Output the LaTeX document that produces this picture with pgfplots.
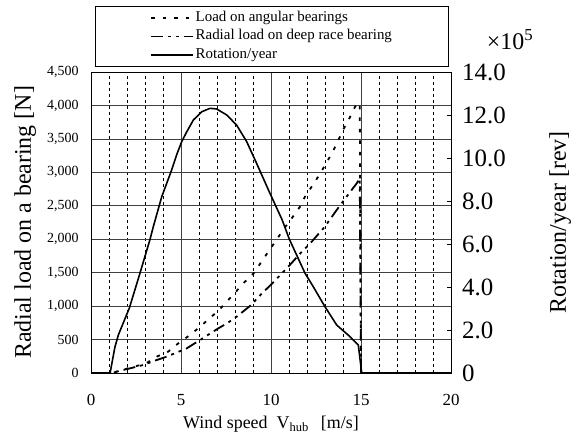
\documentclass[border=0pt]{standalone}
\usepackage{fontspec}
\setmainfont{Liberation Serif}
\usepackage{pgfplots}
\pgfplotsset{compat=1.18}

% load curves [N] vs wind speed [m/s]
\pgfplotstableread{
x y
0 0
1.2 0
1.42 20
2.35 94
3.0 135
3.65 244
4.29 319
4.85 443
5.5 568
6.06 692
6.52 801
7.07 930
7.54 1066
8.0 1200
8.5 1350
9.06 1498
9.43 1648
9.85 1813
10.3 1988
10.7 2150
11.15 2312
11.61 2486
11.89 2636
12.32 2810
12.68 2960
13.06 3134
13.43 3308
13.74 3483
14.02 3642
14.35 3806
14.67 3981
14.93 4040
15.0 0
20 0
}\angular
\pgfplotstableread{
x y
0 0
1.2 0
1.42 20
2.17 70
2.91 120
3.5 180
4.2 244
4.8 310
5.32 369
6.06 493
6.5 570
7.07 667
7.6 750
8.09 842
8.83 1001
9.57 1210
10.0 1320
10.96 1589
11.6 1780
12.26 1963
12.99 2187
13.65 2437
14.2 2636
14.76 2835
14.93 2910
15.0 0
20 0
}\radial
% rotation per year [x10^5 rev]
\pgfplotstableread{
x y
0 0
1.06 0
1.33 1.21
1.52 1.77
2.13 3.02
2.72 4.64
3.28 6.22
3.46 6.80
3.93 8.20
4.48 9.44
4.79 10.22
5.04 10.76
5.32 11.22
5.69 11.77
6.15 12.15
6.61 12.31
6.98 12.28
7.54 12.00
8.09 11.53
8.65 10.76
9.2 9.75
9.94 8.36
10.62 7.12
11.02 6.22
11.89 4.64
12.35 4.01
13.0 3.08
13.65 2.23
14.39 1.69
14.85 1.30
15.04 0
20 0
}\rotation

\begin{document}
\begin{tikzpicture}[x=1bp,y=1bp]
\useasboundingbox (0,0) rectangle (580,435);
\begin{axis}[
  at={(91bp,62bp)}, anchor=south west,
  scale only axis, width=360bp, height=301bp,
  xmin=0, xmax=20, ymin=0, ymax=4500,
  xtick={0,5,10,15,20}, minor x tick num=4,
  ytick={0,500,...,4500},
  grid=both,
  major grid style={black!75, line width=0.7bp},
  minor grid style={black, line width=0.7bp, dash pattern=on 3bp off 3bp},
  major tick length=0pt, minor tick length=0pt,
  axis line style={black, line width=0.8bp},
  /pgf/number format/assume math mode=true,
  /pgf/number format/1000 sep={,},
  yticklabel style={font=\fontsize{14}{16}\selectfont, xshift=-9bp},
  xticklabel style={font=\fontsize{17}{19}\selectfont, yshift=-18bp},
  xlabel={Wind speed\hspace{9bp}V\textsubscript{hub}\hspace{12bp}[m/s]},
  xlabel style={font=\fontsize{18}{20}\selectfont, at={(axis description cs:0.5,0)}, anchor=base, yshift=-56bp},
  ylabel={Radial load on a bearing [N]},
  ylabel style={font=\fontsize{24}{28}\selectfont, at={(axis description cs:-0.183,0.5)}, anchor=center},
  legend image code/.code={\draw[#1] (0bp,0bp) -- (42bp,0bp);},
  legend cell align=left,
  legend style={at={(axis description cs:0.011,1.219)}, anchor=north west,
    font=\fontsize{15}{17}\selectfont, draw=black, line width=0.8bp,
    inner xsep=55bp, inner ysep=3bp, row sep=1.5bp,
    nodes={inner sep=1.5bp, text height=10.5bp, text depth=3.5bp}},
]
\addplot[black, line width=1.8bp, dash pattern=on 3.5bp off 8bp] table {\angular};
\addlegendentry{Load on angular bearings}
\addplot[black, line width=1.8bp, dash pattern=on 12bp off 5bp on 3bp off 5bp on 3bp off 5bp] table {\radial};
\addlegendentry{Radial load on deep race bearing}
\addlegendimage{black, solid, line width=1.4bp}
\addlegendentry{Rotation/year}
\end{axis}
\begin{axis}[
  at={(91bp,62bp)}, anchor=south west,
  scale only axis, width=360bp, height=301bp,
  xmin=0, xmax=20, ymin=0, ymax=14,
  clip=false,
  axis x line=none, axis y line*=right,
  axis line style={black, line width=0.8bp},
  ytick={0,2,...,14},
  yticklabels={0,2.0,4.0,6.0,8.0,10.0,12.0,14.0},
  tick align=inside, major tick length=4bp, tick style={black, line width=0.7bp},
  yticklabel style={font=\fontsize{25}{28}\selectfont, anchor=west, inner sep=0pt, xshift=11bp},
  ylabel={Rotation/year [rev]},
  ylabel style={font=\fontsize{24}{28}\selectfont, at={(axis description cs:1.303,0.5)}, anchor=center, rotate=0},
]
\addplot[black, line width=1.6bp] table {\rotation};
\node[font=\fontsize{24}{28}\selectfont] at (axis description cs:1.164,1.106) {×10\textsuperscript{5}};
\end{axis}
\end{tikzpicture}
\end{document}
